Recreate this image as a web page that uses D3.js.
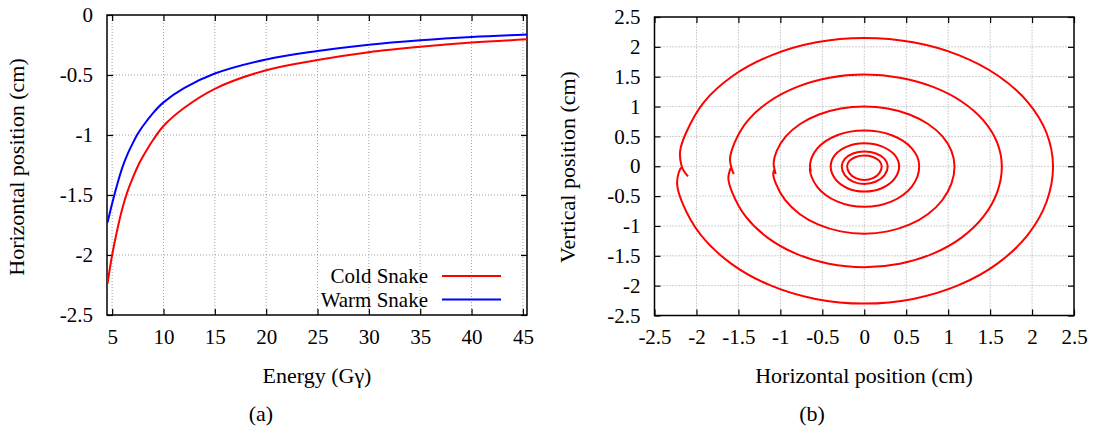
<!DOCTYPE html>
<html><head><meta charset="utf-8">
<script src="https://cdn.jsdelivr.net/npm/d3@7"></script>
<style>body{margin:0;background:#fff}svg{display:block}</style>
</head><body><svg id="c" width="1095" height="434"></svg>
<script>
// ---- Panel (a) data ----
const energy    = [4.55, 5, 5.5, 6, 6.5, 7, 7.5, 8, 9, 10, 12, 15, 20, 25, 30, 35, 40, 45.4];
const coldSnake = [-2.24, -2.0, -1.79, -1.61, -1.47, -1.36, -1.26, -1.18, -1.04, -0.925, -0.775, -0.615, -0.46, -0.375, -0.31, -0.265, -0.23, -0.203];
const warmSnake = [-1.73, -1.57, -1.41, -1.27, -1.16, -1.07, -0.99, -0.925, -0.815, -0.728, -0.61, -0.488, -0.37, -0.30, -0.247, -0.21, -0.183, -0.163];
const xTicksA = [5, 10, 15, 20, 25, 30, 35, 40, 45];
const yTicksA = [0, -0.5, -1, -1.5, -2, -2.5];
const legendLabels = ["Cold Snake", "Warm Snake"];

// ---- Panel (b) data: orbit rings (x, y) in cm ----
const ring1 = [[-2.10,-0.17],[-2.15,-0.08],[-2.18,0.02],[-2.195,0.25],[-2.125,0.557],[-1.91,1.075],[-1.56,1.52],[-1.10,1.862],[-0.57,2.077],[0,2.15],[0.582,2.077],[1.125,1.862],[1.591,1.52],[1.949,1.075],[2.173,0.557],[2.25,0],[2.173,-0.595],[1.949,-1.15],[1.591,-1.626],[1.125,-1.992],[0.582,-2.222],[0,-2.3],[-0.582,-2.222],[-1.125,-1.992],[-1.591,-1.626],[-1.949,-1.15],[-2.173,-0.595],[-2.23,-0.3],[-2.21,-0.1],[-2.18,-0.02]];
const ring2 = [[-1.555,-0.13],[-1.58,-0.04],[-1.6,0.12],[-1.545,0.397],[-1.386,0.768],[-1.131,1.085],[-0.8,1.329],[-0.414,1.483],[0,1.535],[0.424,1.483],[0.82,1.329],[1.16,1.085],[1.42,0.768],[1.584,0.397],[1.64,0],[1.584,-0.437],[1.42,-0.845],[1.16,-1.195],[0.82,-1.464],[0.424,-1.632],[0,-1.69],[-0.422,-1.632],[-0.815,-1.464],[-1.153,-1.195],[-1.412,-0.845],[-1.574,-0.437],[-1.62,-0.2],[-1.6,-0.06],[-1.585,-0.02]];
const ring3 = [[-1.055,-0.13],[-1.07,-0.05],[-1.08,0.06],[-1.043,0.259],[-0.935,0.5],[-0.764,0.707],[-0.54,0.866],[-0.28,0.966],[0,1.0],[0.279,0.966],[0.538,0.866],[0.761,0.707],[0.932,0.5],[1.039,0.259],[1.076,0],[1.039,-0.292],[0.932,-0.565],[0.761,-0.799],[0.538,-0.979],[0.279,-1.091],[0,-1.13],[-0.282,-1.091],[-0.545,-0.979],[-0.771,-0.799],[-0.944,-0.565],[-1.053,-0.292],[-1.085,-0.12],[-1.07,-0.05]];
const ring4 = [[-0.635,-0.09],[-0.645,-0.02],[-0.645,0.04],[-0.623,0.155],[-0.559,0.3],[-0.456,0.424],[-0.323,0.52],[-0.167,0.58],[0,0.6],[0.17,0.58],[0.328,0.52],[0.463,0.424],[0.567,0.3],[0.633,0.155],[0.655,0],[0.633,-0.176],[0.567,-0.34],[0.463,-0.481],[0.328,-0.589],[0.17,-0.657],[0,-0.68],[-0.168,-0.657],[-0.325,-0.589],[-0.46,-0.481],[-0.563,-0.34],[-0.628,-0.176],[-0.648,-0.06],[-0.645,-0.02]];
const ring5 = [[0.416,0],[0.36,0.193],[0.208,0.334],[0,0.386],[-0.2,0.334],[-0.346,0.193],[-0.4,0],[-0.346,-0.2125],[-0.2,-0.368],[0,-0.425],[0.208,-0.368],[0.36,-0.2125]];
const ring6 = [[0.28,0],[0.242,0.123],[0.14,0.213],[0,0.246],[-0.134,0.213],[-0.232,0.123],[-0.268,0],[-0.232,-0.148],[-0.134,-0.256],[0,-0.296],[0.14,-0.256],[0.242,-0.148]];
const ring7 = [[0.208,0],[0.18,0.09],[0.104,0.155],[0,0.179],[-0.102,0.155],[-0.177,0.09],[-0.204,0],[-0.177,-0.115],[-0.102,-0.199],[0,-0.23],[0.104,-0.199],[0.18,-0.115]];
const ticksB = [-2.5, -2, -1.5, -1, -0.5, 0, 0.5, 1, 1.5, 2, 2.5];

const FONT = '"Liberation Serif","DejaVu Serif","Noto Serif","Times New Roman",Times,serif';
const svg = d3.select("#c").attr("font-family", FONT);
const TICK_FS = 21, LAB_FS = 22, LEG_FS = 21;
const fmt = v => String(v);

function label(g, txt, fs) {
  return g.append("text").attr("font-family", FONT).style("font-family", FONT).style("font-size", fs + "px").attr("fill", "#000").text(txt);
}

function frame(g, x, y, xt, yt) {
  const [x0, x1] = x.range(), [y0, y1] = y.range();
  const grid = g.append("g").attr("stroke", "#a0a0a0").attr("stroke-width", 1).attr("stroke-dasharray", "1,2");
  xt.forEach(t => { const px = x(t); if (px > x0 + 1 && px < x1 - 1) grid.append("line").attr("x1", px).attr("x2", px).attr("y1", y0).attr("y2", y1); });
  yt.forEach(t => { const py = y(t); if (py < y0 - 1 && py > y1 + 1) grid.append("line").attr("x1", x0).attr("x2", x1).attr("y1", py).attr("y2", py); });
  const tl = 6;
  const bottom = g.append("g").attr("transform", `translate(0,${y0})`).call(d3.axisBottom(x).tickValues(xt).tickSize(-tl).tickPadding(14).tickFormat(fmt));
  const top = g.append("g").attr("transform", `translate(0,${y1})`).call(d3.axisTop(x).tickValues(xt).tickSize(-tl).tickFormat(""));
  const left = g.append("g").attr("transform", `translate(${x0},0)`).call(d3.axisLeft(y).tickValues(yt).tickSize(-tl).tickPadding(14).tickFormat(fmt));
  const right = g.append("g").attr("transform", `translate(${x1},0)`).call(d3.axisRight(y).tickValues(yt).tickSize(-tl).tickFormat(""));
  [bottom, top, left, right].forEach(a => {
    a.attr("font-family", FONT);
    a.select(".domain").remove();
    a.selectAll(".tick line").attr("stroke", "#000").attr("stroke-width", 1.2);
    a.selectAll("text").attr("font-family", FONT).style("font-family", FONT).style("font-size", TICK_FS + "px").attr("fill", "#000");
  });
  bottom.selectAll("text").attr("dy", "0.71em");
  g.append("rect").attr("x", x0).attr("y", y1).attr("width", x1 - x0).attr("height", y0 - y1)
    .attr("fill", "none").attr("stroke", "#000").attr("stroke-width", 1.5);
}

// ---- Panel (a) ----
const gA = svg.append("g");
const xA = d3.scaleLinear().domain([4.5, 45.4]).range([107, 527]);
const yA = d3.scaleLinear().domain([-2.5, 0]).range([315, 15]);
svg.append("clipPath").attr("id", "clipA").append("rect").attr("x", 107).attr("y", 15).attr("width", 420).attr("height", 300);
frame(gA, xA, yA, xTicksA, yTicksA);
const lineA = d3.line().x(d => xA(d[0])).y(d => yA(d[1])).curve(d3.curveCatmullRom.alpha(0.5));
const series = [
  {name: legendLabels[0], vals: coldSnake, color: "#ff0000"},
  {name: legendLabels[1], vals: warmSnake, color: "#0000ff"}
];
series.forEach(s => {
  gA.append("path").attr("clip-path", "url(#clipA)").attr("d", lineA(energy.map((e, i) => [e, s.vals[i]])))
    .attr("fill", "none").attr("stroke", s.color).attr("stroke-width", 2);
});
series.forEach((s, i) => {
  const ly = 276 + i * 23.5;
  label(gA, s.name, LEG_FS).attr("x", 428).attr("y", ly + 7).attr("text-anchor", "end");
  gA.append("line").attr("x1", 442).attr("x2", 501).attr("y1", ly).attr("y2", ly).attr("stroke", s.color).attr("stroke-width", 2);
});
label(gA, "Horizontal position (cm)", LAB_FS).attr("transform", "translate(24,167) rotate(-90)").attr("text-anchor", "middle");
label(gA, "Energy (G\u03b3)", LAB_FS).attr("x", 317).attr("y", 383).attr("text-anchor", "middle");
label(gA, "(a)", LAB_FS).attr("x", 261).attr("y", 421).attr("text-anchor", "middle");

// ---- Panel (b) ----
const gB = svg.append("g");
const xB = d3.scaleLinear().domain([-2.5, 2.5]).range([654.5, 1074]);
const yB = d3.scaleLinear().domain([-2.5, 2.5]).range([315.5, 17]);
frame(gB, xB, yB, ticksB, ticksB);
const lineOpen = d3.line().x(d => xB(d[0])).y(d => yB(d[1])).curve(d3.curveCatmullRom.alpha(0.5));
const lineClosed = d3.line().x(d => xB(d[0])).y(d => yB(d[1])).curve(d3.curveCatmullRomClosed.alpha(0.5));
[ring1, ring2, ring3, ring4].forEach(r => {
  gB.append("path").attr("d", lineOpen(r)).attr("fill", "none").attr("stroke", "#ff0000").attr("stroke-width", 2);
});
[ring5, ring6, ring7].forEach(r => {
  gB.append("path").attr("d", lineClosed(r)).attr("fill", "none").attr("stroke", "#ff0000").attr("stroke-width", 2);
});
label(gB, "Vertical position (cm)", LAB_FS).attr("transform", "translate(575,167) rotate(-90)").attr("text-anchor", "middle");
label(gB, "Horizontal position (cm)", LAB_FS).attr("x", 864).attr("y", 383).attr("text-anchor", "middle");
label(gB, "(b)", LAB_FS).attr("x", 812).attr("y", 421).attr("text-anchor", "middle");
</script></body></html>
